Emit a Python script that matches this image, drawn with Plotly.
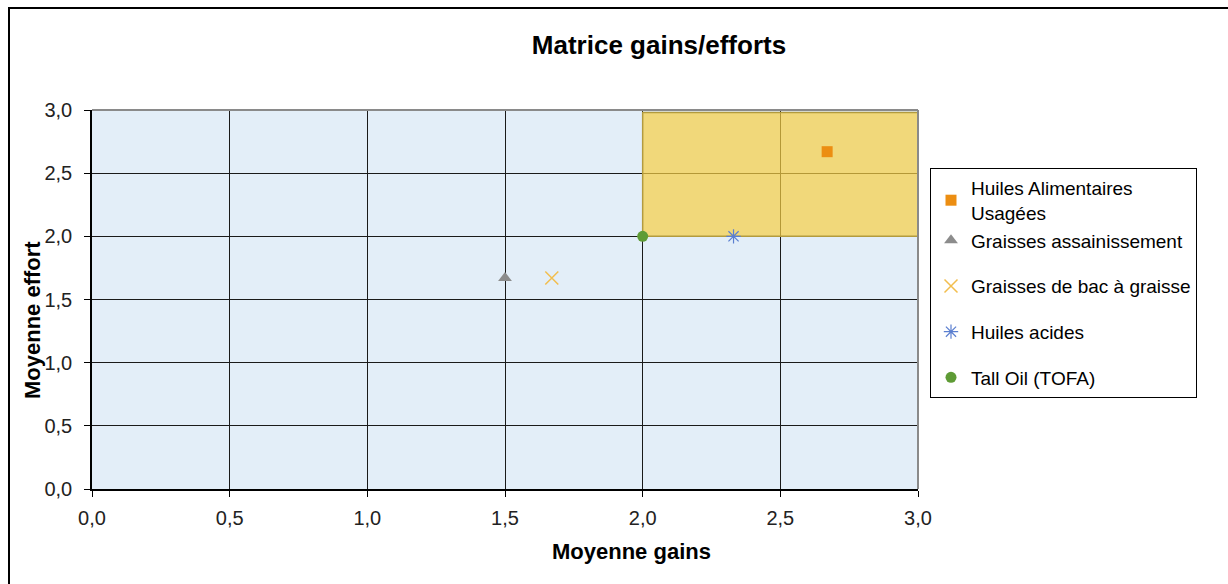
import plotly.graph_objects as go

# Series: average gains (x) vs average effort (y) per feedstock
series_names = [
    "Huiles Alimentaires<br>Usagées",
    "Graisses assainissement",
    "Graisses de bac à graisse",
    "Huiles acides",
    "Tall Oil (TOFA)",
]
gains = [2.67, 1.50, 1.67, 2.33, 2.00]
efforts = [2.67, 1.67, 1.67, 2.00, 2.00]

# Highlighted zone (high gains / high effort)
zone_gains = [2.0, 3.0]
zone_efforts = [2.0, 2.98]

tick_vals = [0.0, 0.5, 1.0, 1.5, 2.0, 2.5, 3.0]

styles = [
    dict(symbol="square", color="#EC8E12", size=11, line=dict(width=0)),
    dict(symbol="triangle-up", color="#8C8C8C", size=12, line=dict(width=0)),
    dict(symbol="x-thin-open", color="#F2BE4E", size=13, line=dict(width=1.5, color="#F2BE4E")),
    dict(symbol="asterisk-open", color="#5B7FD0", size=12, line=dict(width=1.2, color="#5B7FD0")),
    dict(symbol="circle", color="#5E9B35", size=11, line=dict(width=0)),
]
groups = ["a", "a", "b", "c", "d"]

FONT = "Liberation Sans, Arial, sans-serif"

fig = go.Figure()

zx0, zx1 = zone_gains
zy0, zy1 = zone_efforts
fig.add_trace(go.Scatter(
    x=[zx0, zx1, zx1, zx0, zx0],
    y=[zy0, zy0, zy1, zy1, zy0],
    mode="lines",
    fill="toself",
    fillcolor="rgba(247,207,68,0.70)",
    line=dict(color="#B39B3E", width=1.5),
    showlegend=False,
    hoverinfo="skip",
))

for name, gx, ey, st, grp in zip(series_names, gains, efforts, styles, groups):
    fig.add_trace(go.Scatter(
        x=[gx], y=[ey], mode="markers", name=name, legendgroup=grp,
        marker=st,
    ))

L, R, T, B = 92, 310, 110, 95
W, H = 1228, 584
pw, ph = W - L - R, H - T - B

def px_x(p):
    return (p - L) / pw

def px_y(p):
    return (H - B - p) / ph

axis_common = dict(
    range=[0, 3],
    tickvals=tick_vals,
    tickformat=".1f",
    showgrid=True,
    gridcolor="#1a1a1a",
    gridwidth=1,
    zeroline=False,
    showline=True,
    linecolor="black",
    linewidth=1.5,
    ticks="outside",
    ticklen=6,
    tickcolor="black",
    tickfont=dict(family=FONT, size=20, color="#222"),
    automargin=False,
    fixedrange=True,
)

fig.update_layout(
    width=W, height=H,
    margin=dict(l=L, r=R, t=T, b=B, pad=0),
    paper_bgcolor="white",
    plot_bgcolor="#E3EEF8",
    separators=", ",
    font=dict(family=FONT, color="black"),
    xaxis=dict(axis_common, ticklabelstandoff=4),
    yaxis=dict(axis_common, ticklabelstandoff=8),
    showlegend=True,
    legend=dict(
        x=px_x(930), y=px_y(168), xanchor="left", yanchor="top",
        bordercolor="black", borderwidth=1, bgcolor="white",
        font=dict(family=FONT, size=19, color="black"),
        tracegroupgap=18,
        traceorder="grouped",
        itemwidth=30,
    ),
    title=dict(
        text="<b>Matrice gains/efforts</b>",
        x=659 / W, xref="container", xanchor="center",
        y=1 - 45 / H, yref="container", yanchor="middle",
        font=dict(family=FONT, size=26, color="black"),
    ),
    annotations=[
        dict(text="<b>Moyenne gains</b>", x=px_x(631), y=px_y(551),
             xref="paper", yref="paper", showarrow=False,
             xanchor="center", yanchor="middle",
             font=dict(family=FONT, size=22, color="black")),
        dict(text="<b>Moyenne effort</b>", x=px_x(32), y=px_y(320),
             xref="paper", yref="paper", showarrow=False, textangle=-90,
             xanchor="center", yanchor="middle",
             font=dict(family=FONT, size=22, color="black")),
    ],
    shapes=[
        # chart frame
        dict(type="rect", xref="paper", yref="paper",
             x0=px_x(9), x1=px_x(1260), y0=px_y(8), y1=px_y(620),
             line=dict(color="black", width=2), fillcolor="rgba(0,0,0,0)",
             layer="above"),
        # plot-area edges on top and right
        dict(type="line", xref="paper", yref="paper", x0=0, x1=1, y0=1, y1=1,
             line=dict(color="#8a8a8a", width=2), layer="above"),
        dict(type="line", xref="paper", yref="paper", x0=1, x1=1, y0=0, y1=1,
             line=dict(color="#8a8a8a", width=2), layer="above"),
    ],
)

fig.write_html("out.html")
